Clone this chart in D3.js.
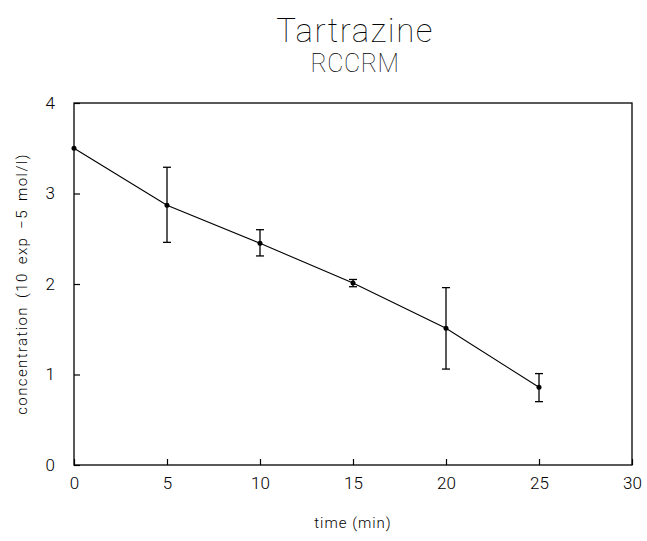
<!DOCTYPE html>
<html>
<head>
<meta charset="utf-8">
<script src="https://cdn.jsdelivr.net/npm/d3@7"></script>
<style>
  body { margin: 0; background: #fff; }
  text { font-family: Roboto, "Liberation Sans", sans-serif; font-weight: 300; fill: #000; }
</style>
</head>
<body>
<div id="chart"></div>
<script>
// values
var times = [0, 5, 10, 15, 20, 25];
var conc = [3.5, 2.87, 2.45, 2.01, 1.51, 0.86];
var concHigh = [3.5, 3.29, 2.60, 2.05, 1.96, 1.01];
var concLow = [3.5, 2.46, 2.31, 1.97, 1.06, 0.70];
var xTicks = [0, 5, 10, 15, 20, 25, 30];
var yTicks = [0, 1, 2, 3, 4];

var width = 647,
    height = 541;
var margin = { top: 103, right: 15, bottom: 76, left: 74 };

// slight opacity keeps the text in grey antialiasing (no colour fringes)
var svg = d3.select("#chart").append("svg")
    .attr("width", width)
    .attr("height", height)
    .style("opacity", 0.999);

var x = d3.scaleLinear()
    .domain([0, 30])
    .range([margin.left, width - margin.right]);

var y = d3.scaleLinear()
    .domain([0, 4])
    .range([height - margin.bottom, margin.top]);

// title
svg.append("text")
    .attr("x", 355)
    .attr("y", 42)
    .attr("text-anchor", "middle")
    .style("font-size", "33px")
    .style("font-weight", 100)
    .style("letter-spacing", "1.5px")
    .text("Tartrazine");

svg.append("text")
    .attr("x", 355)
    .attr("y", 72)
    .attr("text-anchor", "middle")
    .style("font-size", "25px")
    .style("font-weight", 100)
    .style("letter-spacing", "0.5px")
    .text("RCCRM");

// frame
svg.append("rect")
    .attr("x", x(0))
    .attr("y", y(4))
    .attr("width", x(30) - x(0))
    .attr("height", y(0) - y(4))
    .style("fill", "none")
    .style("stroke", "#000")
    .style("stroke-width", 1.3);

// axes, ticks point inward
var xAxis = svg.append("g")
    .attr("transform", "translate(0," + y(0) + ")")
    .call(d3.axisBottom(x).tickValues(xTicks).tickSize(-6).tickPadding(12).tickFormat(d3.format("d")));

var yAxis = svg.append("g")
    .attr("transform", "translate(" + x(0) + ",0)")
    .call(d3.axisLeft(y).tickValues(yTicks).tickSize(-6).tickPadding(19).tickFormat(d3.format("d")));

[xAxis, yAxis].forEach(function(g) {
    g.select(".domain").remove();
    g.selectAll("line").style("stroke", "#000").style("stroke-width", 1.2);
    g.selectAll("text")
        .style("font-size", "17px")
        .style("fill", "#000");
});

// axis titles
svg.append("text")
    .attr("x", (x(0) + x(30)) / 2)
    .attr("y", 528)
    .attr("text-anchor", "middle")
    .style("font-size", "15px")
    .style("letter-spacing", "1px")
    .text("time  (min)");

svg.append("text")
    .attr("transform", "translate(27," + (y(2)) + ") rotate(-90)")
    .attr("text-anchor", "middle")
    .style("font-size", "15px")
    .style("letter-spacing", "1.4px")
    .style("word-spacing", "3px")
    .text("concentration (10 exp \u22125 mol/l)");

// data
var data = times.map(function(t, i) {
    return { t: t, c: conc[i], hi: concHigh[i], lo: concLow[i] };
});

var line = d3.line()
    .x(function(d) { return x(d.t); })
    .y(function(d) { return y(d.c); });

svg.append("path")
    .datum(data)
    .attr("d", line)
    .style("fill", "none")
    .style("stroke", "#000")
    .style("stroke-width", 1.1);

// error bars (skip the first point, it has none)
var bars = svg.selectAll("g.err")
    .data(data.filter(function(d) { return d.hi !== d.lo; }))
    .enter()
    .append("g")
    .attr("class", "err")
    .style("stroke", "#000")
    .style("stroke-width", 1.3);

bars.append("line")
    .attr("x1", function(d) { return x(d.t); })
    .attr("x2", function(d) { return x(d.t); })
    .attr("y1", function(d) { return y(d.hi); })
    .attr("y2", function(d) { return y(d.lo); });

bars.append("line")
    .attr("x1", function(d) { return x(d.t) - 4; })
    .attr("x2", function(d) { return x(d.t) + 4; })
    .attr("y1", function(d) { return y(d.hi); })
    .attr("y2", function(d) { return y(d.hi); });

bars.append("line")
    .attr("x1", function(d) { return x(d.t) - 4; })
    .attr("x2", function(d) { return x(d.t) + 4; })
    .attr("y1", function(d) { return y(d.lo); })
    .attr("y2", function(d) { return y(d.lo); });

svg.selectAll("circle.pt")
    .data(data)
    .enter()
    .append("circle")
    .attr("class", "pt")
    .attr("cx", function(d) { return x(d.t); })
    .attr("cy", function(d) { return y(d.c); })
    .attr("r", 2.5)
    .style("fill", "#000");
</script>
</body>
</html>
